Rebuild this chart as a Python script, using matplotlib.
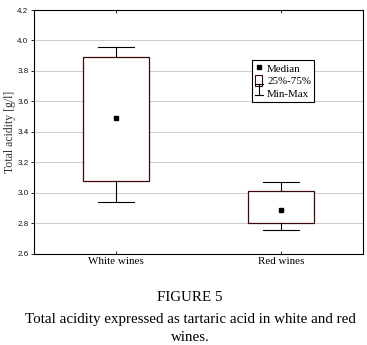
import matplotlib
matplotlib.use("Agg")
import matplotlib.pyplot as plt
from matplotlib.lines import Line2D
from matplotlib.patches import Patch
from matplotlib.legend_handler import HandlerBase

# data
groups = ["White wines", "Red wines"]
mins = [2.94, 2.76]
q1s = [3.08, 2.80]
medians = [3.49, 2.89]
q3s = [3.89, 3.01]
maxs = [3.96, 3.07]

yticks = [2.6, 2.8, 3.0, 3.2, 3.4, 3.6, 3.8, 4.0, 4.2]

box_col = "#3a0a0a"
serif = ["Liberation Serif", "DejaVu Serif"]
sans = ["Liberation Sans", "DejaVu Sans"]


class MinMaxHandler(HandlerBase):
    def create_artists(self, legend, orig, xd, yd, width, height, fontsize, trans):
        cx = xd + width / 2
        w = width * 1.1
        lines = [
            Line2D([cx, cx], [yd, yd + height], color="k", lw=0.8),
            Line2D([cx - w / 2, cx + w / 2], [yd + height, yd + height], color="k", lw=0.8),
            Line2D([cx - w / 2, cx + w / 2], [yd, yd], color="k", lw=0.8),
        ]
        for l in lines:
            l.set_transform(trans)
        return lines


fig = plt.figure(figsize=(3.67, 3.45), dpi=100)
ax = fig.add_axes([0.0926, 0.264, 0.8965, 0.707])

stats = []
for i, g in enumerate(groups):
    stats.append(dict(label=g, whislo=mins[i], q1=q1s[i], med=medians[i],
                      q3=q3s[i], whishi=maxs[i], fliers=[]))

positions = list(range(len(groups)))
ax.bxp(stats, positions=positions, widths=0.4, showfliers=False, patch_artist=True,
       boxprops=dict(facecolor="white", edgecolor=box_col, linewidth=0.9),
       whiskerprops=dict(color="black", linewidth=0.8),
       capprops=dict(color="black", linewidth=0.8),
       medianprops=dict(visible=False), capwidths=0.22, zorder=3)
ax.plot(positions, medians, "s", color="black", ms=3.5, zorder=4)

ax.set_xlim(-0.5, 1.5)
ax.set_ylim(2.6, 4.2)
ax.set_yticks(yticks)
ax.set_yticklabels([f"{t:.1f}" for t in yticks], family=sans, fontsize=5.8, color="#111111")
ax.set_xticks(positions)
ax.set_xticklabels(groups, family=serif, fontsize=7.9)
ax.tick_params(axis="y", direction="out", length=2.5, width=0.6, pad=1.5)
ax.tick_params(axis="x", direction="in", length=2.5, width=0.6, top=True, pad=2)
ax.yaxis.grid(True, color="#cccccc", linewidth=0.7)
ax.set_axisbelow(True)
for s in ax.spines.values():
    s.set_linewidth(0.8)
ax.set_ylabel("Total acidity [g/l]", family=serif, fontsize=8.5, labelpad=1, color="#333333")

handles = [
    Line2D([], [], marker="s", color="black", ls="none", ms=3.5),
    Patch(facecolor="white", edgecolor=box_col, linewidth=0.8),
    "minmax",
]
leg = ax.legend(handles, ["Median", "25%-75%", "Min-Max"], handler_map={str: MinMaxHandler()},
                loc="upper left", bbox_to_anchor=(0.662, 0.797), fancybox=False,
                edgecolor="black", framealpha=1, prop=dict(family=serif, size=7.9),
                handlelength=0.65, handleheight=1.15, handletextpad=0.45, borderpad=0.3,
                labelspacing=0.12, borderaxespad=0)
leg.get_frame().set_linewidth(0.8)

fig.text(0.518, 0.139, "FIGURE 5", ha="center", va="center", family=serif, fontsize=10.8)
fig.text(0.518, 0.073, "Total acidity expressed as tartaric acid in white and red",
         ha="center", va="center", family=serif, fontsize=10.8)
fig.text(0.518, 0.022, "wines.", ha="center", va="center", family=serif, fontsize=10.8)

fig.savefig("out.png", dpi=100)
